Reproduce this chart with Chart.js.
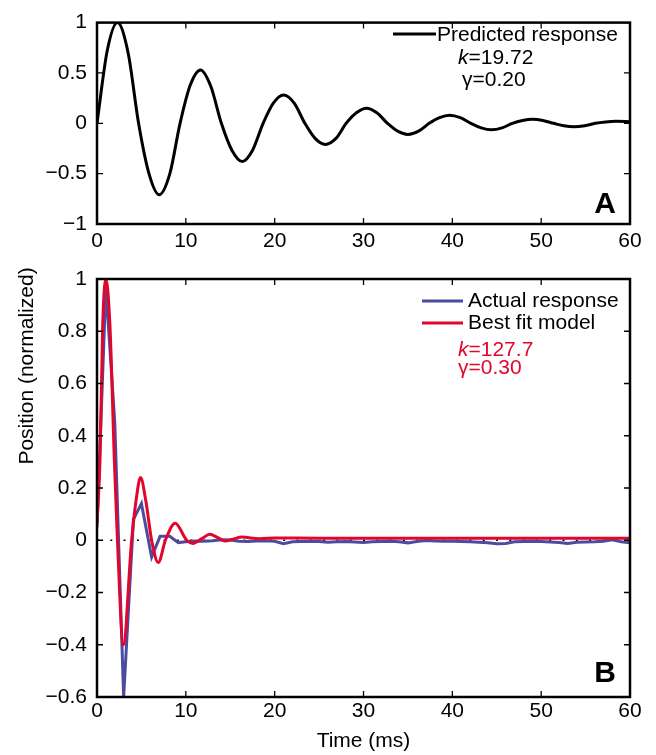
<!DOCTYPE html>
<html>
<head>
<meta charset="utf-8">
<script src="https://cdn.jsdelivr.net/npm/chart.js@4.4.0/dist/chart.umd.min.js"></script>
<style>
  body { margin: 0; background: #fff; }
  #wrap { position: relative; width: 656px; height: 755px; }
  canvas { position: absolute; left: 0; }
  #chartA { top: 0; }
  #chartB { top: 255px; }
</style>
</head>
<body>
<div id="wrap">
  <canvas id="chartA" width="656" height="255"></canvas>
  <canvas id="chartB" width="656" height="500"></canvas>
</div>
<script>
// tick labels
const xTicks = [0, 10, 20, 30, 40, 50, 60];
const yTicksA = [-1, -0.5, 0, 0.5, 1];
const yTicksB = [-0.6, -0.4, -0.2, 0, 0.2, 0.4, 0.6, 0.8, 1];

// panel A: predicted response (time in ms, normalized position)
const predTime = [0, 1.15, 2.3, 3.5, 4.68, 5.85, 7.0, 8.2, 9.35, 10.5, 11.65, 12.8, 14.0, 15.2, 16.35, 17.5,
  18.7, 19.85, 21.0, 22.2, 23.4, 24.55, 25.7, 26.9, 28.05, 29.2, 30.35, 31.5, 32.7, 33.85, 35.0, 36.2,
  37.4, 38.55, 39.7, 40.9, 42.1, 43.25, 44.4, 45.6, 46.75, 47.9, 49.05, 50.2, 51.4, 52.55, 53.7, 54.9,
  56.1, 57.25, 58.4, 60];
const predPos = [0, 0.72, 1.0, 0.7, 0, -0.5, -0.71, -0.5, 0, 0.38, 0.53, 0.37, 0, -0.27, -0.38, -0.27,
  0, 0.2, 0.28, 0.2, 0, -0.15, -0.21, -0.15, 0, 0.105, 0.15, 0.105, 0, -0.078, -0.11, -0.078,
  0, 0.056, 0.08, 0.056, 0, -0.046, -0.065, -0.046, 0, 0.028, 0.04, 0.028, 0, -0.025, -0.035, -0.025,
  0, 0.014, 0.02, 0.015];

// panel B: actual response (sampled) and best fit model
const actualTime = [0, 1, 2, 3, 4.1, 5.0, 6.15, 7.1, 8.2, 9.15, 10, 11, 12, 13, 14, 15, 16, 17, 18, 19,
  20, 21, 22, 23, 24, 25, 26, 27, 28, 29, 30, 31, 32, 33, 34, 35, 36, 37, 38, 39,
  40, 41, 42, 43, 44, 45, 46, 47, 48, 49, 50, 51, 52, 53, 54, 55, 56, 57, 58, 59, 60];
const actualPos = [0.05, 0.97, 0.45, -0.6, 0.08, 0.14, -0.064, 0.015, 0.015, -0.009, -0.006, -0.003, -0.004, -0.002, 0.002, 0.001, -0.004, -0.005, -0.003, -0.002,
  -0.004, -0.013, -0.006, -0.005, -0.004, -0.005, -0.008, -0.006, -0.005, -0.007, -0.009, -0.006, -0.005, -0.004, -0.006, -0.01, -0.005, -0.001, -0.003, -0.004,
  -0.004, -0.005, -0.006, -0.008, -0.01, -0.013, -0.012, -0.006, -0.005, -0.004, -0.005, -0.007, -0.009, -0.012, -0.008, -0.007, -0.006, -0.004, 0.002, -0.006, -0.01];

const modelTime = [0, 0.34, 0.64, 1.0, 1.46, 1.95, 2.3, 2.96, 3.9, 4.4, 4.9, 5.5, 6.15, 6.9, 7.7, 8.8, 10.1, 10.8,
  11.8, 12.7, 13.6, 14.4, 15.3, 16.3, 18.3, 20, 25, 30, 40, 50, 60];
const modelPos = [0.065, 0.31, 0.82, 1.0, 0.82, 0.31, 0, -0.40, 0, 0.153, 0.24, 0.15, 0, -0.085, 0, 0.065, 0, -0.012,
  0.006, 0.023, 0.01, -0.003, 0.004, 0.012, 0.006, 0.009, 0.008, 0.008, 0.008, 0.008, 0.008];

const zeroTime = [0, 60];
const zeroPos = [0, 0];

const FONT = "'Liberation Sans', Arial, Helvetica, sans-serif";
Chart.defaults.font.family = FONT;
Chart.defaults.font.size = 21;
Chart.defaults.color = '#000';
Chart.defaults.animation = false;

const pts = (xs, ys) => xs.map((x, i) => ({ x: x, y: ys[i] }));
const fmt = v => (v < 0 ? '\u2212' + Math.abs(v) : String(v));

// frame with inward ticks on all four sides
const frameTicks = {
  id: 'frameTicks',
  afterDatasetsDraw(chart) {
    const { ctx, chartArea: a, scales: { x, y } } = chart;
    ctx.save();
    ctx.strokeStyle = '#000';
    ctx.lineWidth = 1.3;
    ctx.beginPath();
    x.ticks.forEach(t => {
      const px = x.getPixelForValue(t.value);
      ctx.moveTo(px, a.bottom); ctx.lineTo(px, a.bottom - 6);
      ctx.moveTo(px, a.top); ctx.lineTo(px, a.top + 6);
    });
    y.ticks.forEach(t => {
      const py = y.getPixelForValue(t.value);
      ctx.moveTo(a.left, py); ctx.lineTo(a.left + 6, py);
      ctx.moveTo(a.right, py); ctx.lineTo(a.right - 6, py);
    });
    ctx.stroke();
    ctx.lineWidth = 2.5;
    ctx.strokeRect(a.left, a.top, a.right - a.left, a.bottom - a.top);
    ctx.restore();
  }
};

function kLine(ctx, x, y, val) {
  ctx.font = 'italic 21px ' + FONT;
  ctx.fillText('k', x, y);
  const w = ctx.measureText('k').width;
  ctx.font = '21px ' + FONT;
  ctx.fillText('=' + val, x + w, y);
}

function panelLetter(ctx, txt, x, y) {
  ctx.font = 'bold 30px ' + FONT;
  ctx.fillStyle = '#000';
  ctx.textAlign = 'center';
  ctx.textBaseline = 'middle';
  ctx.fillText(txt, x, y);
}

const notesA = {
  id: 'notesA',
  afterDraw(chart) {
    const ctx = chart.ctx;
    const ds = chart.data.datasets[0];
    ctx.save();
    ctx.strokeStyle = ds.borderColor;
    ctx.lineWidth = 3;
    ctx.beginPath(); ctx.moveTo(393, 34); ctx.lineTo(436, 34); ctx.stroke();
    ctx.fillStyle = '#000';
    ctx.textBaseline = 'middle';
    ctx.textAlign = 'left';
    ctx.font = '21px ' + FONT;
    ctx.fillText(ds.label, 437, 35);
    kLine(ctx, 458, 58, '19.72');
    ctx.fillText('\u03b3=0.20', 462, 80);
    panelLetter(ctx, 'A', 605, 205);
    ctx.restore();
  }
};

const notesB = {
  id: 'notesB',
  afterDraw(chart) {
    const ctx = chart.ctx;
    const sets = chart.data.datasets;
    ctx.save();
    ctx.textBaseline = 'middle';
    ctx.textAlign = 'left';
    [[sets[1], 46], [sets[0], 68]].forEach(([ds, yy]) => {
      ctx.strokeStyle = ds.borderColor;
      ctx.lineWidth = 3;
      ctx.beginPath(); ctx.moveTo(422, yy); ctx.lineTo(463, yy); ctx.stroke();
      ctx.fillStyle = '#000';
      ctx.font = '21px ' + FONT;
      ctx.fillText(ds.label, 468, yy);
    });
    ctx.fillStyle = sets[0].borderColor;
    kLine(ctx, 458, 95, '127.7');
    ctx.fillText('\u03b3=0.30', 458, 113);
    // y axis title
    ctx.fillStyle = '#000';
    ctx.translate(27, 111);
    ctx.rotate(-Math.PI / 2);
    ctx.textAlign = 'center';
    ctx.font = '21px ' + FONT;
    ctx.fillText('Position (normalized)', 0, 0);
    ctx.restore();
    ctx.save();
    panelLetter(ctx, 'B', 605, 419);
    ctx.restore();
  }
};

function xScale(pad, h, title) {
  return {
    type: 'linear', min: 0, max: 60,
    afterBuildTicks: s => { s.ticks = xTicks.map(v => ({ value: v })); },
    afterFit: s => { s.height = h; },
    ticks: { padding: pad, maxRotation: 0, autoSkip: false, callback: fmt },
    grid: { display: false, drawTicks: false },
    border: { display: false },
    title: title ? { display: true, text: title, padding: { top: 0, bottom: 1 } } : { display: false }
  };
}

function yScale(lo, hi, ticks) {
  return {
    type: 'linear', min: lo, max: hi,
    afterBuildTicks: s => { s.ticks = ticks.map(v => ({ value: v })); },
    afterFit: s => { s.width = 97; },
    ticks: { padding: 10, autoSkip: false, callback: fmt },
    grid: { display: false, drawTicks: false },
    border: { display: false }
  };
}

new Chart(document.getElementById('chartA'), {
  type: 'line',
  data: {
    datasets: [{
      label: 'Predicted response',
      data: pts(predTime, predPos),
      borderColor: '#000',
      borderWidth: 3,
      pointRadius: 0,
      cubicInterpolationMode: 'monotone'
    }]
  },
  options: {
    responsive: false,
    layout: { padding: { top: 15, right: 26, left: 0, bottom: 0 } },
    plugins: { legend: { display: false }, tooltip: { enabled: false } },
    scales: { x: xScale(5, 31, null), y: yScale(-1, 1, yTicksA) }
  },
  plugins: [frameTicks, notesA]
});

new Chart(document.getElementById('chartB'), {
  type: 'line',
  data: {
    datasets: [{
      label: 'Best fit model',
      data: pts(modelTime, modelPos),
      borderColor: '#e2062c',
      borderWidth: 3,
      pointRadius: 0,
      cubicInterpolationMode: 'monotone',
      order: 0
    }, {
      label: 'Actual response',
      data: pts(actualTime, actualPos),
      borderColor: '#4b4ba0',
      borderWidth: 3,
      pointRadius: 0,
      tension: 0,
      order: 1
    }, {
      label: 'zero',
      data: pts(zeroTime, zeroPos),
      borderColor: '#000',
      borderWidth: 1.5,
      borderDash: [2, 11.3],
      pointRadius: 0,
      order: 2
    }]
  },
  options: {
    responsive: false,
    layout: { padding: { top: 24, right: 26, left: 0, bottom: 0 } },
    plugins: { legend: { display: false }, tooltip: { enabled: false } },
    scales: { x: xScale(2, 58, 'Time (ms)'), y: yScale(-0.6, 1, yTicksB) }
  },
  plugins: [frameTicks, notesB]
});
</script>
</body>
</html>
